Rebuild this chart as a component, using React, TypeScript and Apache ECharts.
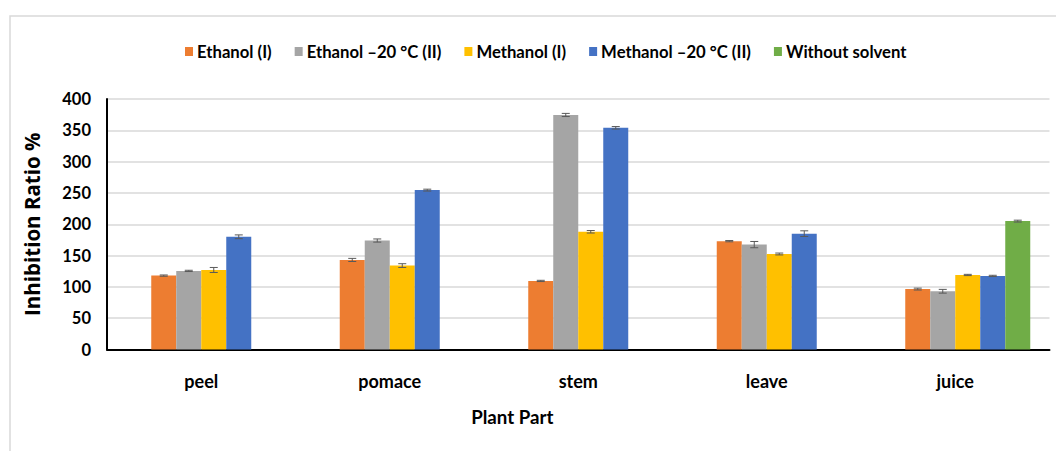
import React, { useEffect, useRef } from "react";
import * as echarts from "echarts";

// Plant parts on the category axis
const categories = ["peel", "pomace", "stem", "leave", "juice"];

// Inhibition ratio (%) per extract, with ± error
const ethanolI = [118, 143, 109.5, 173, 96.5];
const ethanolIErr = [1, 2.5, 1, 1, 1.5];
const ethanolII = [125.5, 174, 374.5, 167.5, 93];
const ethanolIIErr = [1, 2.5, 2.5, 5, 3];
const methanolI = [127, 134, 188, 152.5, 119];
const methanolIErr = [4, 3, 2, 1.5, 1];
const methanolII = [180, 254.5, 354, 185, 117.5];
const methanolIIErr = [3, 1.5, 2, 4.5, 1];
const withoutSolvent = ["-", "-", "-", "-", 205] as (number | string)[];
const withoutSolventErr = [0, 0, 0, 0, 1.5];

const seriesNames = [
  "Ethanol (I)",
  "Ethanol \u201320 \u00b0C (II)",
  "Methanol (I)",
  "Methanol \u201320 \u00b0C (II)",
  "Without solvent",
];
const colors = ["#ED7D31", "#A5A5A5", "#FFC000", "#4472C4", "#70AD47"];

const yTicks = { min: 0, max: 400, interval: 50 };

const FONT = "Lato, 'Open Sans', sans-serif";
const WIDE_FONT = "'Open Sans', Lato, sans-serif";
const BAR_W = 25;

export default function App() {
  const ref = useRef<HTMLDivElement>(null);

  useEffect(() => {
    if (!ref.current) return;
    const chart = echarts.init(ref.current, undefined, { renderer: "svg" });

    const values = [ethanolI, ethanolII, methanolI, methanolII, withoutSolvent];
    const errs = [ethanolIErr, ethanolIIErr, methanolIErr, methanolIIErr, withoutSolventErr];
    // horizontal offset of each bar centre from the category centre
    const offsets = [-1.5, -0.5, 0.5, 1.5, 2.5].map((k) => k * BAR_W);

    const errorSeries = values.map((vals, si) => ({
      type: "custom",
      name: "err" + si,
      xAxisIndex: 0,
      yAxisIndex: 0,
      silent: true,
      z: 5,
      data: vals
        .map((v, ci) => (typeof v === "number" ? [ci, v, errs[si][ci]] : null))
        .filter((d) => d !== null),
      renderItem: (_params: any, api: any) => {
        const ci = api.value(0);
        const v = api.value(1);
        const e = api.value(2);
        const top = api.coord([ci, v + e]);
        const bot = api.coord([ci, v - e]);
        const x = top[0] + offsets[si];
        const cap = 4;
        const style = { stroke: "#595959", lineWidth: 1 };
        return {
          type: "group",
          children: [
            { type: "line", shape: { x1: x, y1: top[1], x2: x, y2: bot[1] }, style },
            { type: "line", shape: { x1: x - cap, y1: top[1], x2: x + cap, y2: top[1] }, style },
            { type: "line", shape: { x1: x - cap, y1: bot[1], x2: x + cap, y2: bot[1] }, style },
          ],
        };
      },
    }));

    const barSeries = [0, 1, 2, 3].map((i) => ({
      type: "bar",
      name: seriesNames[i],
      xAxisIndex: 0,
      data: values[i],
      barWidth: BAR_W,
      barGap: "0%",
      itemStyle: { color: colors[i] },
    }));

    chart.setOption({
      animation: false,
      backgroundColor: "#ffffff",
      color: colors,
      graphic: [
        {
          type: "rect",
          shape: { x: 10, y: 16, width: 1100, height: 500 },
          style: { fill: "none", stroke: "#D9D9D9", lineWidth: 1.5 },
          silent: true,
          z: -10,
        },
      ],
      legend: {
        data: seriesNames,
        top: 43,
        left: 185,
        padding: 0,
        icon: "rect",
        itemWidth: 8,
        itemHeight: 9,
        itemGap: 23,
        textStyle: {
          fontFamily: FONT,
          fontWeight: "bold",
          fontSize: 16.7,
          color: "#000",
          padding: [0, 0, 0, -1],
        },
      },
      grid: { left: 107, right: 6.5, top: 99, bottom: 101.5 },
      xAxis: [
        {
          type: "category",
          data: categories,
          axisLine: { lineStyle: { color: "#000", width: 2 } },
          axisTick: { show: false },
          axisLabel: {
            margin: 22,
            fontFamily: FONT,
            fontWeight: "bold",
            fontSize: 18,
            color: "#000",
          },
          name: "Plant Part",
          nameLocation: "middle",
          nameGap: 58,
          nameTextStyle: {
            fontFamily: FONT,
            fontWeight: "bold",
            fontSize: 18.7,
            color: "#000",
            padding: [0, 132, 0, 0],
          },
        },
        {
          type: "category",
          data: categories,
          position: "bottom",
          show: false,
        },
      ],
      yAxis: {
        type: "value",
        min: yTicks.min,
        max: yTicks.max,
        interval: yTicks.interval,
        axisLine: { show: true, lineStyle: { color: "#000", width: 2 } },
        axisTick: { show: false },
        splitLine: { lineStyle: { color: "#D9D9D9", width: 1.5 } },
        axisLabel: {
          margin: 16,
          fontFamily: FONT,
          fontWeight: "bold",
          fontSize: 16.5,
          color: "#000",
        },
        name: "Inhibition Ratio %",
        nameLocation: "middle",
        nameGap: 65,
        nameTextStyle: { fontFamily: WIDE_FONT, fontWeight: "bold", fontSize: 20.5, color: "#000" },
      },
      series: [
        ...barSeries,
        // spacer on the second axis so the last bar sits right of the four-bar group
        {
          type: "bar",
          name: "_spacer",
          xAxisIndex: 1,
          data: categories.map(() => "-"),
          barWidth: BAR_W,
          barGap: "400%",
          silent: true,
        },
        {
          type: "bar",
          name: seriesNames[4],
          xAxisIndex: 1,
          data: withoutSolvent,
          barWidth: BAR_W,
          barGap: "400%",
          itemStyle: { color: colors[4] },
        },
        ...errorSeries,
      ],
    });

    return () => chart.dispose();
  }, []);

  return (
    <div
      ref={ref}
      style={{ position: "fixed", left: 0, top: 0, width: 1056, height: 451 }}
    />
  );
}
